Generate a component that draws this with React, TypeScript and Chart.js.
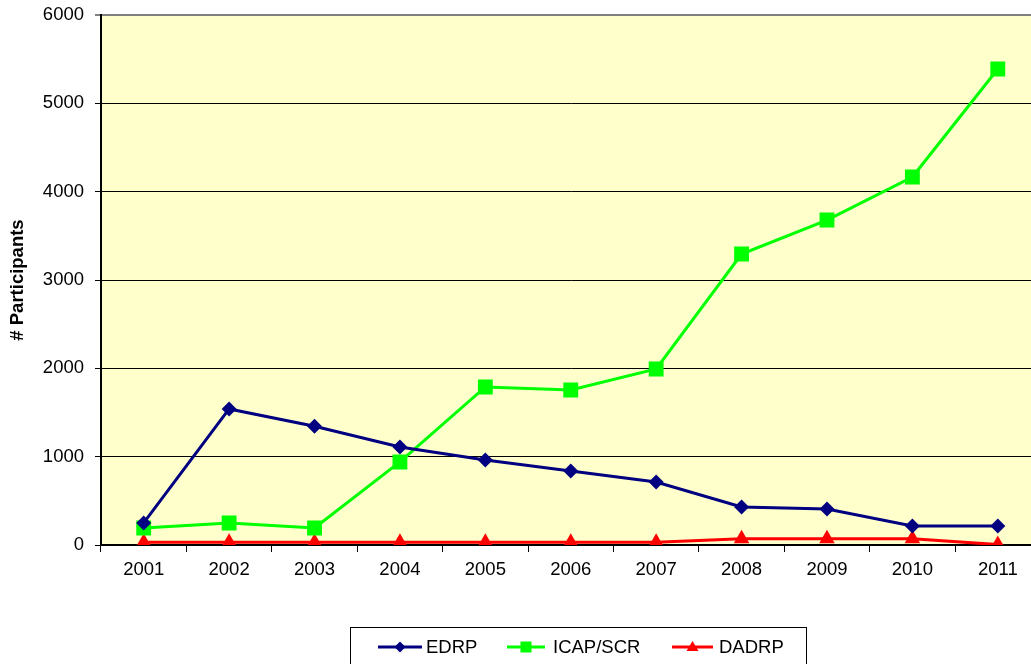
import React, { useEffect, useRef } from "react";
import { Chart, registerables } from "chart.js";

Chart.register(...registerables);

const years = ["2001", "2002", "2003", "2004", "2005", "2006", "2007", "2008", "2009", "2010", "2011"];
const edrp = [250, 1540, 1345, 1110, 962, 838, 713, 430, 408, 215, 215];
const icap = [192, 249, 192, 940, 1789, 1755, 1993, 3294, 3679, 4166, 5389];
const dadrp = [30, 30, 30, 30, 30, 30, 30, 70, 70, 70, 5];
const seriesNames = ["EDRP", "ICAP/SCR", "DADRP"];
const seriesColors = ["#000080", "#00FF00", "#FF0000"];
const yTitle = "# Participants";

const FONT = "'Liberation Sans', Arial, sans-serif";
const FS = 18.5;

const bgPlugin = {
  id: "plotBg",
  beforeDraw(chart: any) {
    const { ctx, chartArea } = chart;
    ctx.save();
    ctx.fillStyle = "#FFFFCC";
    ctx.fillRect(chartArea.left, chartArea.top, chartArea.right - chartArea.left, chartArea.bottom - chartArea.top);
    ctx.restore();
  },
};

function drawMarker(ctx: CanvasRenderingContext2D, kind: number, x: number, y: number, color: string) {
  ctx.fillStyle = color;
  ctx.beginPath();
  if (kind === 0) {
    const r = 5.5;
    ctx.moveTo(x, y - r);
    ctx.lineTo(x + r, y);
    ctx.lineTo(x, y + r);
    ctx.lineTo(x - r, y);
    ctx.closePath();
  } else if (kind === 1) {
    ctx.rect(x - 5.5, y - 5.5, 11, 11);
  } else {
    ctx.moveTo(x, y - 6);
    ctx.lineTo(x + 6, y + 4);
    ctx.lineTo(x - 6, y + 4);
    ctx.closePath();
  }
  ctx.fill();
}

const legendPlugin = {
  id: "boxLegend",
  afterDraw(chart: any) {
    const ctx: CanvasRenderingContext2D = chart.ctx;
    ctx.save();
    ctx.strokeStyle = "#000000";
    ctx.lineWidth = 1;
    ctx.strokeRect(350.5, 627.5, 456, 60);
    const items = [
      { x0: 378, x1: 422, tx: 426 },
      { x0: 507, x1: 545, tx: 553 },
      { x0: 672, x1: 713, tx: 719 },
    ];
    const y = 647;
    ctx.font = `${FS}px ${FONT}`;
    ctx.textBaseline = "middle";
    ctx.textAlign = "left";
    items.forEach((it, i) => {
      const ds = chart.data.datasets[i];
      ctx.strokeStyle = ds.borderColor;
      ctx.lineWidth = 3;
      ctx.beginPath();
      ctx.moveTo(it.x0, y);
      ctx.lineTo(it.x1, y);
      ctx.stroke();
      drawMarker(ctx, i, (it.x0 + it.x1) / 2, y, ds.borderColor);
      ctx.fillStyle = "#000000";
      ctx.fillText(ds.label, it.tx, y + 1);
    });
    ctx.restore();
  },
};

export default function App() {
  const ref = useRef<HTMLCanvasElement>(null);
  useEffect(() => {
    const canvas = ref.current!;
    const chart = new Chart(canvas, {
      type: "line",
      data: {
        labels: years,
        datasets: [
          {
            label: seriesNames[0],
            data: edrp,
            borderColor: seriesColors[0],
            backgroundColor: seriesColors[0],
            borderWidth: 3,
            pointStyle: "rectRot",
            pointRadius: 7.5,
            pointBorderWidth: 0,
            tension: 0,
          },
          {
            label: seriesNames[1],
            data: icap,
            borderColor: seriesColors[1],
            backgroundColor: seriesColors[1],
            borderWidth: 3,
            pointStyle: "rect",
            pointRadius: 10.5,
            pointBorderWidth: 0,
            tension: 0,
          },
          {
            label: seriesNames[2],
            data: dadrp,
            borderColor: seriesColors[2],
            backgroundColor: seriesColors[2],
            borderWidth: 3,
            pointStyle: "triangle",
            pointRadius: 9,
            pointBorderWidth: 0,
            tension: 0,
          },
        ],
      },
      options: {
        responsive: false,
        animation: false,
        layout: { padding: { top: 15, right: 0, bottom: 79, left: 0 } },
        plugins: {
          legend: { display: false },
          tooltip: { enabled: false },
        },
        scales: {
          x: {
            offset: true,
            afterFit: (s: any) => {
              s.height = 40;
            },
            grid: {
              offset: true,
              drawOnChartArea: false,
              drawTicks: true,
              tickLength: 7,
              color: "#000000",
              lineWidth: 1,
            },
            border: { display: true, color: "#000000", width: 2 },
            ticks: {
              color: "#000000",
              padding: 7,
              font: { family: FONT, size: FS },
              maxRotation: 0,
            },
          },
          y: {
            min: 0,
            max: 6000,
            afterFit: (s: any) => {
              s.width = 101;
              s.paddingTop = 0;
              s.paddingBottom = 0;
            },
            title: {
              display: true,
              text: yTitle,
              color: "#000000",
              font: { family: FONT, size: FS, weight: "bold" },
              padding: { top: 7, bottom: 0 },
            },
            grid: {
              color: (c: any) => (c.tick && c.tick.value === 6000 ? "#808080" : "#000000"),
              lineWidth: (c: any) => (c.tick && c.tick.value === 6000 ? 2 : 1),
              tickLength: 6,
            },
            border: { display: true, color: "#000000", width: 2 },
            ticks: {
              stepSize: 1000,
              color: "#000000",
              padding: 11,
              font: { family: FONT, size: FS },
              callback: (v: any) => String(v),
            },
          },
        },
      },
      plugins: [bgPlugin, legendPlugin],
    } as any);
    return () => chart.destroy();
  }, []);

  return (
    <div style={{ position: "fixed", left: 0, top: 0, width: 1031, height: 664, overflow: "hidden", background: "#ffffff" }}>
      <canvas ref={ref} width={1051} height={664} style={{ display: "block" }} />
    </div>
  );
}
